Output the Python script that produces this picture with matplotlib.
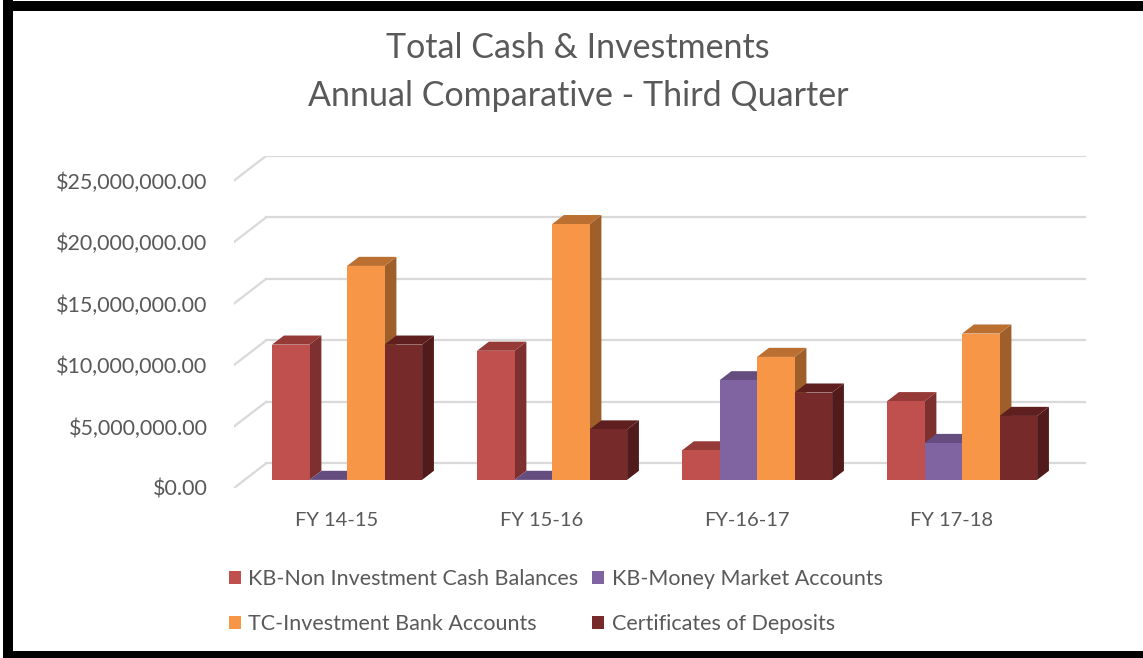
import numpy as np
import matplotlib
matplotlib.use('Agg')
from matplotlib import pyplot as plt
from matplotlib.patches import Polygon, Patch, Rectangle

plt.rcParams['font.family'] = ['Lato', 'DejaVu Sans']

# data (dollars)
categories = ['FY 14-15', 'FY 15-16', 'FY-16-17', 'FY 17-18']
series_names = ['KB-Non Investment Cash Balances', 'KB-Money Market Accounts',
                'TC-Investment Bank Accounts', 'Certificates of Deposits']
kb_non_investment = [11.0e6, 10.5e6, 2.4e6, 6.4e6]
kb_money_market = [0.0, 0.0, 8.1e6, 3.0e6]
tc_investment_bank = [17.4e6, 20.8e6, 10.0e6, 11.9e6]
certificates = [11.0e6, 4.1e6, 7.1e6, 5.2e6]
yticks = [0, 5e6, 10e6, 15e6, 20e6, 25e6]

# front / top / side face colours per series
colors = [('#C0504D', '#963A38', '#7E2F2F'),
          ('#8064A2', '#654E7F', '#4E3D63'),
          ('#F79646', '#BB7032', '#9E5F2B'),
          ('#772A2A', '#5E1F1E', '#511B1B')]
grid_col = '#D9D9D9'
text_col = '#595959'

W, H = 1143, 658
fig = plt.figure(figsize=(W / 100, H / 100), dpi=100)

# oblique depth: full floor depth shifts by DX (category units) and DY (dollars)
DX = 32 / 205
DY = 2e6
d0, d1 = 0.33, 0.70   # bar depth span
bw = 0.183            # bar width

ax = fig.add_axes([234 / W, 170 / H, (1086 - 234) / W, (502 - 170) / H])
ax.set_xlim(-0.5, 3.5 + DX)
ax.set_ylim(0, 25e6 + DY)
for s in ax.spines.values():
    s.set_visible(False)


def proj(x, v, d):
    return (x + d * DX, v + d * DY)


# gridlines: back wall + left wall diagonals
for v in yticks:
    ax.plot([-0.5 + DX, 3.5 + DX], [v + DY, v + DY], color=grid_col, lw=1.6, zorder=1)
    ax.plot([-0.5, -0.5 + DX], [v, v + DY], color=grid_col, lw=1.6, zorder=1)

data = [kb_non_investment, kb_money_market, tc_investment_bank, certificates]
z = 2
for i in range(len(categories)):
    for j, vals in enumerate(data):
        val = vals[i]
        x0 = i - 2 * bw + j * bw
        front_c, top_c, side_c = colors[j]
        front = [proj(x0, 0, d0), proj(x0 + bw, 0, d0), proj(x0 + bw, val, d0), proj(x0, val, d0)]
        top = [proj(x0, val, d0), proj(x0 + bw, val, d0), proj(x0 + bw, val, d1), proj(x0, val, d1)]
        side = [proj(x0 + bw, 0, d0), proj(x0 + bw, 0, d1), proj(x0 + bw, val, d1), proj(x0 + bw, val, d0)]
        ax.add_patch(Polygon(side, closed=True, fc=side_c, ec='none', zorder=z))
        ax.add_patch(Polygon(top, closed=True, fc=top_c, ec='none', zorder=z))
        ax.add_patch(Polygon(front, closed=True, fc=front_c, ec='none', zorder=z))
        z += 1

ax.set_yticks(yticks)
ax.set_yticklabels(['${:,.2f}'.format(v) for v in yticks])
ax.set_xticks(range(len(categories)))
ax.set_xticklabels(categories)
ax.tick_params(axis='y', length=0, pad=19, labelsize=15.5, labelcolor=text_col)
ax.tick_params(axis='x', length=0, pad=17, labelsize=14.5, labelcolor=text_col)

fig.text(578 / W, 1 - 48 / H, 'Total Cash & Investments', ha='center', va='center',
         fontsize=24.5, color=text_col)
fig.text(578 / W, 1 - 96 / H, 'Annual Comparative - Third Quarter', ha='center', va='center',
         fontsize=24.5, color=text_col)

# legend (column-major order so rows read like the original)
order = [0, 2, 1, 3]
handles = [Patch(fc=colors[k][0], ec='none') for k in order]
labels = [series_names[k] for k in order]
fig.legend(handles, labels, ncol=2, loc='upper left', bbox_to_anchor=(229 / W, 1 - 569 / H),
           frameon=False, fontsize=15.5, labelcolor=text_col, handlelength=0.55,
           handleheight=0.55, handletextpad=0.35, columnspacing=0.65, labelspacing=1.15,
           borderpad=0, borderaxespad=0)

# black frame round the chart area
fig.add_artist(Rectangle((3 / W, 0), 10 / W, 1, transform=fig.transFigure, fc='black', ec='none'))
fig.add_artist(Rectangle((3 / W, 1 - 11 / H), 1, 10 / H, transform=fig.transFigure, fc='black', ec='none'))
fig.add_artist(Rectangle((3 / W, 0), 1, 7 / H, transform=fig.transFigure, fc='black', ec='none'))

fig.savefig('out.png', dpi=100)
